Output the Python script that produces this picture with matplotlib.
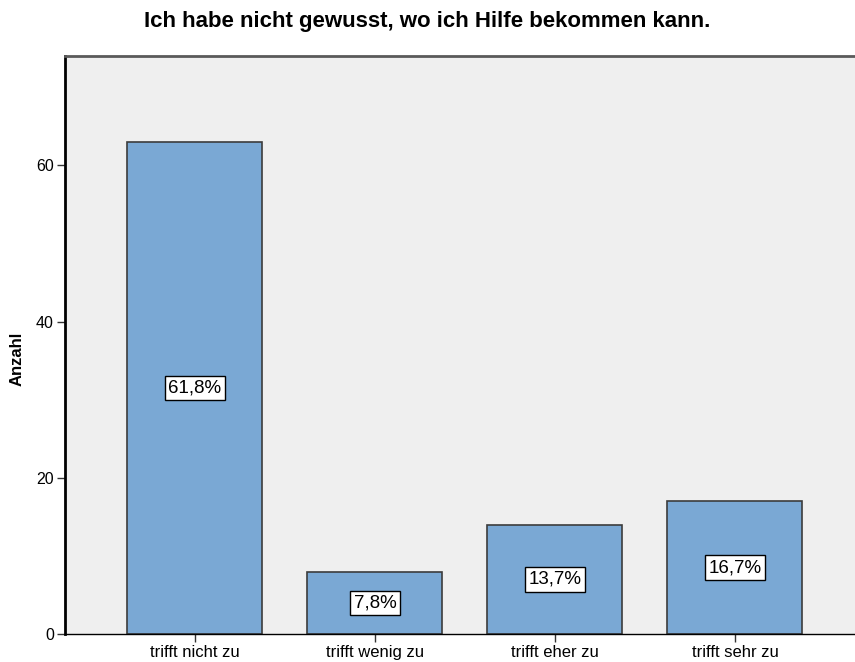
import matplotlib.pyplot as plt

categories = ['trifft nicht zu', 'trifft wenig zu', 'trifft eher zu', 'trifft sehr zu']
counts = [63, 8, 14, 17]
percent_labels = ['61,8%', '7,8%', '13,7%', '16,7%']
yticks = [0, 20, 40, 60]

plt.rcParams['font.family'] = ['Liberation Sans', 'DejaVu Sans']

fig = plt.figure(figsize=(8.55, 6.62), dpi=100)
ax = fig.add_axes([0.076, 0.0423, 0.924, 0.8731])
ax.set_facecolor('#efefef')

x = list(range(len(categories)))
ax.bar(x, counts, width=0.75, color='#7aa8d4', edgecolor='#3c3c3c', linewidth=1.2, zorder=2)

for xi, c, lab in zip(x, counts, percent_labels):
    ax.text(xi, c / 2, lab, ha='center', va='center', fontsize=13.5, zorder=3,
            bbox=dict(boxstyle='square,pad=0.2', facecolor='white', edgecolor='black', linewidth=1))

ax.set_xlim(-0.722, 3.667)
ax.set_ylim(0, 74)
ax.set_xticks(x)
ax.set_xticklabels(categories, fontsize=12)
ax.set_yticks(yticks)
ax.set_yticklabels([str(t) for t in yticks], fontsize=11.5)
ax.tick_params(axis='both', length=6, width=1, color='#333333', pad=2)

ax.spines['left'].set_linewidth(2)
ax.spines['left'].set_color('black')
ax.spines['bottom'].set_linewidth(1)
ax.spines['bottom'].set_color('black')
ax.spines['top'].set_linewidth(2)
ax.spines['top'].set_color('#5a5a5a')
ax.spines['right'].set_visible(False)

ax.set_ylabel('Anzahl', fontsize=12, fontweight='bold')
ax.yaxis.set_label_coords(-0.051, 0.476)
fig.text(0.5, 0.968, 'Ich habe nicht gewusst, wo ich Hilfe bekommen kann.',
         ha='center', va='center', fontsize=16, fontweight='bold')

fig.savefig('out.png', dpi=100)
